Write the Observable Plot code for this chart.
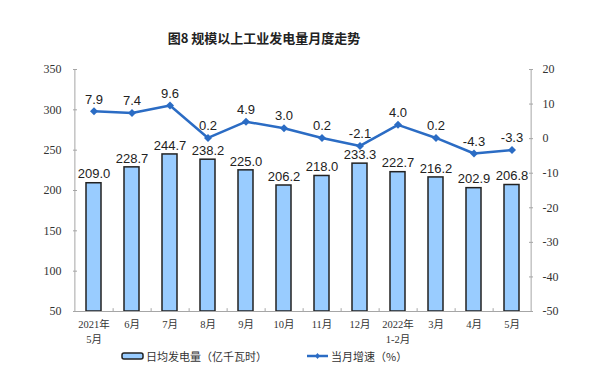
<!DOCTYPE html>
<html><head><meta charset="utf-8">
<script src="https://cdn.jsdelivr.net/npm/d3@7"></script>
<script src="https://cdn.jsdelivr.net/npm/@observablehq/plot@0.6"></script>
<style>
body{margin:0;background:#fff;width:600px;height:385px;position:relative;overflow:hidden;font-family:"Noto Sans CJK SC","Liberation Sans",sans-serif;}
#title{position:absolute;left:0;top:29px;width:528px;text-align:center;font-size:13px;font-weight:bold;color:#222;line-height:18px;}
#chart{position:absolute;left:0;top:55px;}
.leg{position:absolute;top:348px;font-size:11px;color:#333;line-height:16px;display:flex;align-items:center;}
.leg svg{margin-right:2px;}
</style></head>
<body>
<div id="title">图8 规模以上工业发电量月度走势</div>
<div id="chart"></div>
<div class="leg" style="left:121px"><svg width="23" height="10"><rect x="1" y="2" width="21" height="6" rx="2" fill="#99ccff" stroke="#222" stroke-width="1.5"/></svg>日均发电量（亿千瓦时）</div>
<div class="leg" style="left:306px"><svg width="23" height="10"><line x1="1" y1="5" x2="22" y2="5" stroke="#2b6cc4" stroke-width="2.5"/><path d="M11.5,2L14,5L11.5,8L9,5Z" fill="#2b6cc4"/></svg>当月增速（%）</div>
<script>
const months = ["2021年\n5月","6月","7月","8月","9月","10月","11月","12月","2022年\n1-2月","3月","4月","5月"];
const dailyOutput = [209.0,228.7,244.7,238.2,225.0,206.2,218.0,233.3,222.7,216.2,202.9,206.8];
const growth = [7.9,7.4,9.6,0.2,4.9,3.0,0.2,-2.1,4.0,0.2,-4.3,-3.3];
const leftTicks = [50,100,150,200,250,300,350];
const rightTicks = [-50,-40,-30,-20,-10,0,10,20];

const L = [50,350], R = [-50,20];
const toLeft = v => L[0] + (v - R[0]) * (L[1]-L[0]) / (R[1]-R[0]);
const fromLeft = v => Math.round(R[0] + (v - L[0]) * (R[1]-R[0]) / (L[1]-L[0]));

const data = months.map((m,i)=>({m, v: dailyOutput[i], g: growth[i], gy: toLeft(growth[i])}));

const W = 600, mL = 73, mR = 68;
const step = (W - mL - mR) / months.length;
const blue = "#2b6cc4";
const axisColor = "#a6a6a6";

const chart = Plot.plot({
  width: W, height: 300,
  marginTop: 14, marginBottom: 44, marginLeft: mL, marginRight: mR,
  style: {fontFamily: "Liberation Serif, Noto Sans CJK SC", background: "transparent"},
  x: {type:"band", domain: months, paddingInner: 0.6, paddingOuter: 0.3},
  y: {domain: L},
  marks: [
    Plot.barY(data, {x:"m", y1: 50, y2:"v", fill:"#99ccff", stroke:"#222", strokeWidth:1.5}),
    Plot.ruleY([50], {stroke: axisColor, strokeWidth:1}),
    Plot.ruleX(months.slice(0,-1), {x: d=>d, dx: step/2, y1: 50, y2: 53.5, stroke: axisColor}),
    Plot.axisY(leftTicks, {anchor:"left", tickSize: -4, tickPadding: 16, stroke: axisColor, fill:"#333", fontSize:12, label:null}),
    Plot.ruleX([months[0]], {x: d=>d, dx: -step/2, y1:50, y2:350, stroke: axisColor}),
    Plot.axisY(rightTicks.map(toLeft), {anchor:"right", tickSize: -4, tickPadding: 14, tickFormat: v => String(fromLeft(v)), stroke: axisColor, fill:"#333", fontSize:12, label:null}),
    Plot.ruleX([months[months.length-1]], {x: d=>d, dx: step/2, y1:50, y2:350, stroke: axisColor}),
    Plot.axisX({tickSize:0, tickPadding: 6, fill:"#333", fontSize:10.5, label:null, lineHeight: 1.4}),
    Plot.text(data, {x:"m", y:"v", text: d=>d.v.toFixed(1), dy:-9, fontSize:13, fontFamily:"Liberation Sans", fill:"#222"}),
    Plot.line(data, {x:"m", y:"gy", stroke: blue, strokeWidth:2.5}),
    Plot.dot(data, {x:"m", y:"gy", symbol:"diamond2", r:3.6, fill: blue, stroke: "none"}),
    Plot.text(data, {x:"m", y:"gy", text: d=>d.g.toFixed(1), dy:-12, fontSize:13, fontFamily:"Liberation Sans", fill:"#222"})
  ]
});
document.getElementById("chart").appendChild(chart);
</script>
</body></html>
